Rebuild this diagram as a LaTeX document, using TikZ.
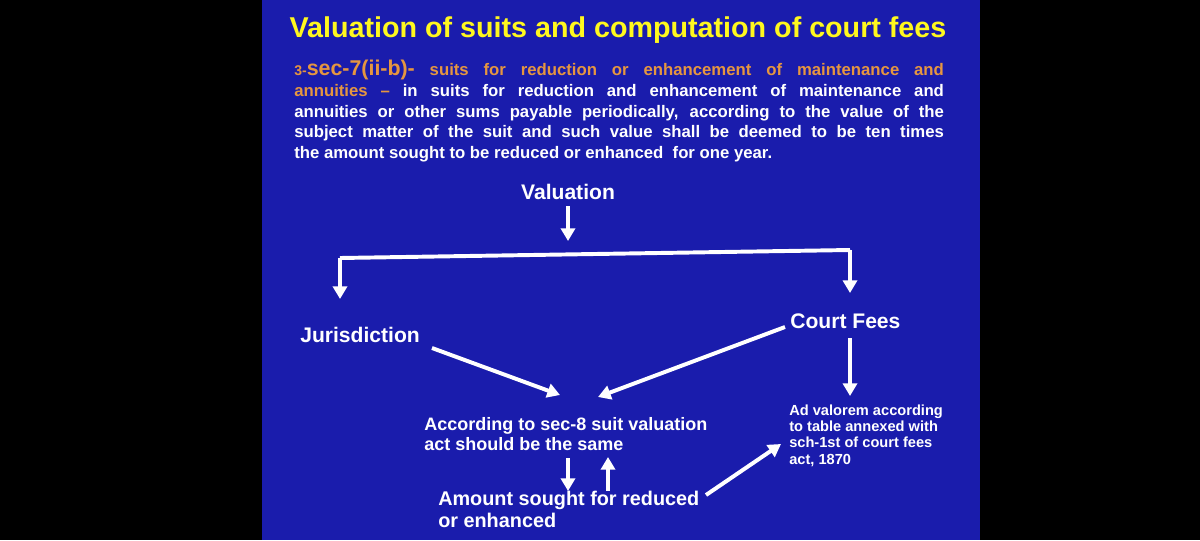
\documentclass[tikz,border=0pt]{standalone}
\usepackage{fontspec}
\setmainfont{Liberation Sans}
\usetikzlibrary{arrows.meta}
\definecolor{slideblue}{RGB}{26,28,172}
\definecolor{titleyellow}{RGB}{255,248,30}
\definecolor{secorange}{RGB}{230,150,64}
\tikzset{
	arr/.style={white, line width=2.8pt, -{Triangle[width=10pt,length=9pt]}},
	lbl/.style={text=white, inner sep=0pt, font=\bfseries\fontsize{15}{17}\selectfont},
	small/.style={text=white, inner sep=0pt, font=\bfseries\fontsize{10.4}{11.6}\selectfont, align=left},
}
\begin{document}
\begin{tikzpicture}[x=0.025cm, y=-0.025cm]
	\useasboundingbox (0,0) rectangle (1200,540);
	\fill[black] (0,0) rectangle (1200,540);
	\fill[slideblue] (262,0) rectangle (980,540);
	% heading and section text
	\node[anchor=base, inner sep=0pt, text=titleyellow, font=\bfseries\fontsize{20.4}{24}\selectfont] (title) at (618,37) {Valuation of suits and computation of court fees};
	\node[anchor=north west, inner sep=0pt, text width=462pt, align=justify, text=white, font=\bfseries\fontsize{11.9}{14.7}\selectfont] (sec) at (294,60)
		{{\color{secorange}{\fontsize{10}{12}\selectfont 3-}{\fontsize{15.2}{14.7}\selectfont sec-7(ii-b)-} suits for reduction or enhancement of maintenance and\linebreak
		annuities –} in suits for reduction and enhancement of maintenance and\linebreak
		annuities or other sums payable periodically, according to the value of the\linebreak
		subject matter of the suit and such value shall be deemed to be ten times\linebreak
		the amount sought to be reduced or enhanced\ \ for one year.};
	% chart
	\node[lbl, anchor=base] (val) at (568,199) {Valuation};
	\coordinate (valend) at (568,241);
	\draw[arr] (568,206) -- (valend);
	\coordinate (bl) at (340,258);
	\coordinate (br) at (850,250);
	\draw[white, line width=2.8pt] (bl) -- (br);
	\coordinate (jurtop) at (340,299);
	\coordinate (cftop) at (850,293);
	\draw[arr] (bl) -- (jurtop);
	\draw[arr] (br) -- (cftop);
	\node[lbl, anchor=base west] (jur) at (300,342) {Jurisdiction};
	\node[lbl, anchor=base west] (cf) at (790,328) {Court Fees};
	% base of a multi-line node is its last line
	\node[lbl, anchor=base west, font=\bfseries\fontsize{12.8}{14.2}\selectfont, align=left] (same) at (424,450) {According to sec-8 suit valuation\\act should be the same};
	\node[lbl, anchor=base west, font=\bfseries\fontsize{14.1}{15.6}\selectfont, align=left] (amt) at (438,527) {Amount sought for reduced\\or enhanced};
	\node[small, anchor=base west] (adv) at (789,464) {Ad valorem according\\to table annexed with\\sch-1st of court fees\\act, 1870};
	\coordinate (samein) at (560,395);
	\coordinate (samein2) at (598,397);
	\draw[arr] (432,348) -- (samein);
	\draw[arr] (785,327) -- (samein2);
	\draw[arr] (850,338) -- (850,396);
	\draw[arr] (568,458) -- (568,491);
	\draw[arr] (608,491) -- (608,457);
	\draw[arr] (706,495) -- (781,444);
\end{tikzpicture}
\end{document}
